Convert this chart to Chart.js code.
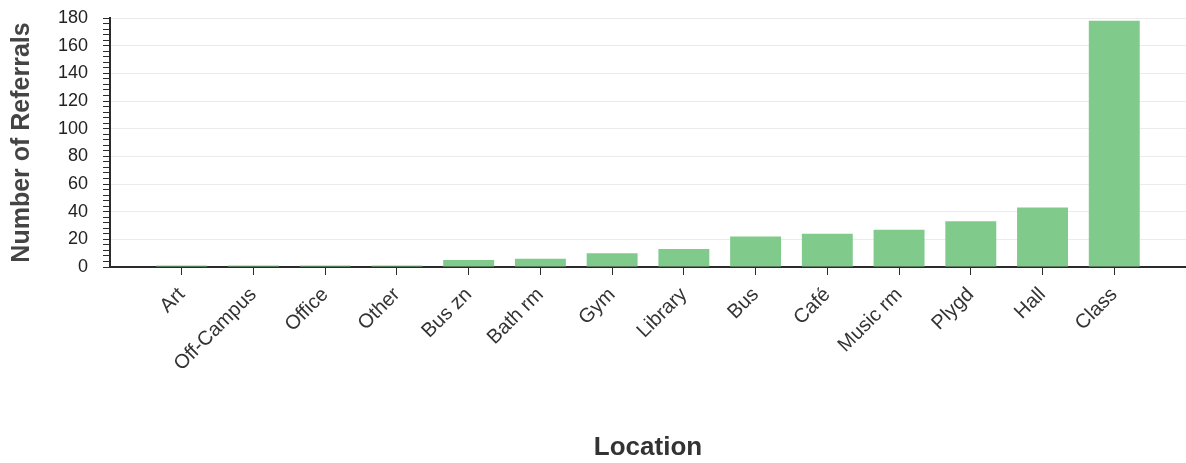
<!DOCTYPE html>
<html>
<head>
<meta charset="utf-8">
<script src="https://cdn.jsdelivr.net/npm/chart.js@4"></script>
<style>
  body { margin: 0; background: #fff; }
  canvas { display: block; }
</style>
</head>
<body>
<canvas id="chart" width="1186" height="463"></canvas>
<script>
// Referrals by location
const locations = ['Art', 'Off-Campus', 'Office', 'Other', 'Bus zn', 'Bath rm', 'Gym', 'Library', 'Bus', 'Café', 'Music rm', 'Plygd', 'Hall', 'Class'];
const referrals = [1, 1, 1, 1, 5, 6, 10, 13, 22, 24, 27, 33, 43, 178];
const yMax = 180;
const yMajorStep = 20;
const yMinorStep = 4;

const axisColor = '#2b2b2b';
const textColor = '#333';
const font = 'Liberation Sans';

new Chart(document.getElementById('chart'), {
  type: 'bar',
  data: {
    datasets: [{
      data: locations.map((_, i) => ({ x: i, y: referrals[i] })),
      backgroundColor: '#80cb8c',
      borderWidth: 0,
      categoryPercentage: 1,
      barPercentage: 0.71
    }]
  },
  options: {
    responsive: false,
    animation: false,
    layout: { padding: { top: 18, right: 0, bottom: 0, left: 0 } },
    plugins: { legend: { display: false }, tooltip: { enabled: false } },
    scales: {
      x: {
        type: 'linear',
        min: -1, max: locations.length,
        offset: false,
        grid: {
          offset: false, drawOnChartArea: false, tickLength: 8,
          tickColor: ctx => (ctx.tick && ctx.tick.value >= 0 && ctx.tick.value < locations.length) ? axisColor : 'rgba(0,0,0,0)'
        },
        border: { color: axisColor, width: 2 },
        ticks: {
          stepSize: 1, maxTicksLimit: 100, autoSkip: false,
          minRotation: 45, maxRotation: 45, padding: 8,
          color: textColor, font: { family: font, size: 20 },
          callback: v => locations[v] ?? ''
        },
        title: {
          display: true, text: 'Location', color: textColor,
          font: { family: font, size: 26, weight: 'bold' },
          padding: { top: 0, bottom: 0 }
        },
        afterFit: s => { s.height = 196; s.paddingRight = 0; s.paddingLeft = 0; }
      },
      y: {
        min: 0, max: yMax,
        grid: {
          tickLength: 7, tickColor: axisColor,
          color: ctx => (ctx.tick && ctx.tick.value > 0 && ctx.tick.value % yMajorStep === 0) ? 'rgba(0,0,0,0.08)' : 'rgba(0,0,0,0)'
        },
        border: { color: axisColor, width: 2 },
        ticks: {
          stepSize: yMinorStep, maxTicksLimit: 100, autoSkip: false, padding: 15,
          color: '#222', font: { family: font, size: 18 },
          callback: v => v % yMajorStep === 0 ? v : ''
        },
        title: {
          display: true, text: 'Number of Referrals', color: '#444',
          font: { family: font, size: 25, weight: 'bold' },
          padding: { top: 7, bottom: 0 }
        },
        afterFit: s => { s.width = 110; s.paddingTop = 0; s.paddingBottom = 0; }
      }
    }
  }
});
</script>
</body>
</html>
